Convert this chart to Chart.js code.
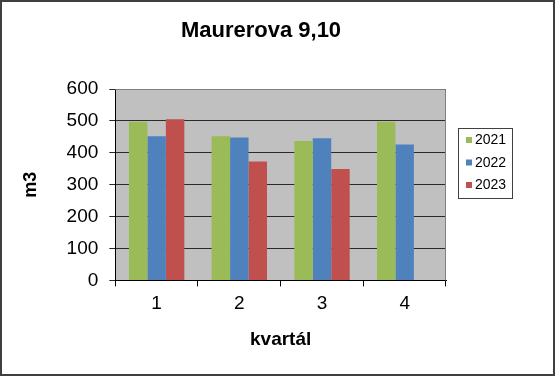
<!DOCTYPE html>
<html>
<head>
<meta charset="utf-8">
<script src="https://cdn.jsdelivr.net/npm/chart.js@4/dist/chart.umd.min.js"></script>
<style>
html,body{margin:0;padding:0;background:#fff;}
canvas{display:block;}
</style>
</head>
<body>
<canvas id="c" width="555" height="376"></canvas>
<script>
const categories = ['1', '2', '3', '4'];
const seriesNames = ['2021', '2022', '2023'];
const values2021 = [497, 452, 437, 497];
const values2022 = [452, 448, 446, 426];
const values2023 = [505, 373, 349, null];
const yTicks = [0, 100, 200, 300, 400, 500, 600];
const colors = ['#9BBB59', '#4F81BD', '#C0504D'];
const chartTitle = 'Maurerova 9,10';

const FONT = '"Liberation Sans", Arial, sans-serif';

const framePlugin = {
  id: 'frame',
  beforeDraw(chart) {
    const ctx = chart.ctx;
    ctx.save();
    ctx.fillStyle = '#fff';
    ctx.fillRect(0, 0, chart.width, chart.height);
    const a = chart.chartArea;
    ctx.fillStyle = '#C0C0C0';
    ctx.fillRect(a.left, a.top, a.right - a.left, a.bottom - a.top);
    ctx.restore();
  },
  afterDatasetsDraw(chart) {
    const ctx = chart.ctx;
    const a = chart.chartArea;
    ctx.save();
    ctx.strokeStyle = '#808080';
    ctx.lineWidth = 1;
    ctx.beginPath();
    ctx.moveTo(a.left, a.top + 0.5);
    ctx.lineTo(a.right - 0.5, a.top + 0.5);
    ctx.lineTo(a.right - 0.5, a.bottom);
    ctx.stroke();
    ctx.restore();
  },
  afterDraw(chart) {
    const ctx = chart.ctx;
    ctx.save();
    // outer border
    ctx.strokeStyle = '#404040';
    ctx.lineWidth = 2;
    ctx.strokeRect(1, 1, chart.width - 2, chart.height - 2);
    // title
    ctx.fillStyle = '#000';
    ctx.font = 'bold 22px ' + FONT;
    ctx.textAlign = 'center';
    ctx.textBaseline = 'alphabetic';
    ctx.fillText(chartTitle, 261, 36.5);
    // legend
    const lx = 458, ly = 128, lw = 54, lh = 70;
    ctx.strokeStyle = '#404040';
    ctx.lineWidth = 1;
    ctx.strokeRect(lx + 0.5, ly + 0.5, lw, lh);
    ctx.font = '14px ' + FONT;
    ctx.textBaseline = 'middle';
    ctx.textAlign = 'left';
    const ds = chart.data.datasets;
    for (let i = 0; i < ds.length; i++) {
      const y = ly + 12 + i * 22.5;
      ctx.fillStyle = ds[i].backgroundColor;
      ctx.fillRect(lx + 8, y - 3, 6, 6);
      ctx.fillStyle = '#000';
      ctx.fillText(ds[i].label, lx + 17, y + 0.5);
    }
    ctx.restore();
  }
};

const values = [values2021, values2022, values2023];
new Chart(document.getElementById('c'), {
  type: 'bar',
  data: {
    labels: categories,
    datasets: seriesNames.map((n, i) => ({
      label: n,
      data: values[i],
      backgroundColor: colors[i],
      borderWidth: 0,
      barPercentage: 1.0,
      categoryPercentage: 0.67
    }))
  },
  options: {
    responsive: false,
    animation: false,
    layout: { padding: { left: 20, right: 109, top: 89, bottom: 25 } },
    plugins: {
      legend: { display: false },
      tooltip: { enabled: false },
      title: { display: false }
    },
    scales: {
      x: {
        grid: { display: true, drawOnChartArea: false, drawTicks: true, tickLength: 6, color: '#000', offset: true },
        border: { display: true, color: '#000', width: 1 },
        ticks: { color: '#000', font: { family: FONT, size: 19 }, padding: 6 },
        title: { display: true, text: 'kvartál', color: '#000', font: { family: FONT, size: 19, weight: 'bold' }, padding: { top: 7, bottom: 0 } }
      },
      y: {
        min: 0, max: 600,
        afterBuildTicks(axis) { axis.ticks = yTicks.map(v => ({ value: v })); },
        grid: { color: '#2a2a2a', drawTicks: true, tickLength: 6 },
        border: { display: true, color: '#000', width: 1 },
        ticks: { color: '#000', font: { family: FONT, size: 19 }, padding: 11 },
        title: { display: true, text: 'm3', color: '#000', font: { family: FONT, size: 18, weight: 'bold' }, padding: { top: 0, bottom: 14 } }
      }
    }
  },
  plugins: [framePlugin]
});
</script>
</body>
</html>
